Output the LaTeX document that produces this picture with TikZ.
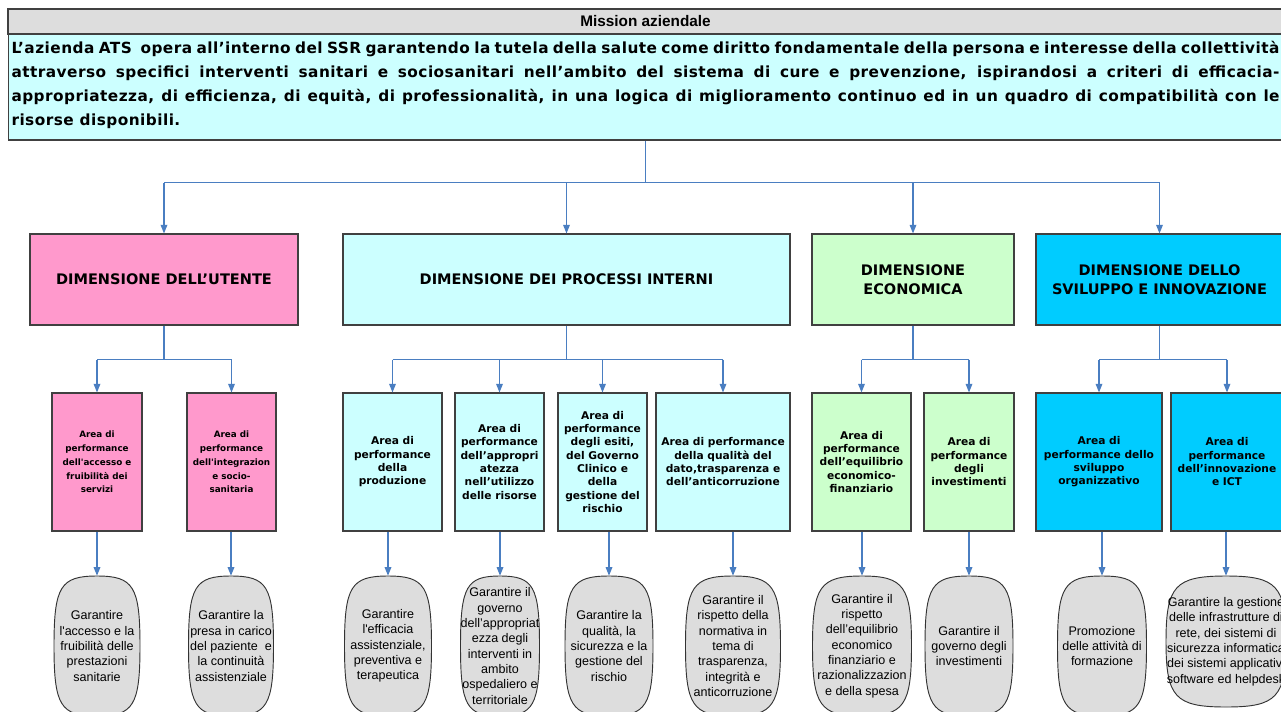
\documentclass[tikz,border=0pt]{standalone}
\usepackage{fontspec}
\setmainfont{Liberation Sans}
\newfontfamily\verdana{DejaVu Sans}
\newfontfamily\verdanawide{DejaVu Sans}[LetterSpace=3]
\usetikzlibrary{arrows.meta,backgrounds}
\definecolor{missiongray}{RGB}{221,221,221}
\definecolor{missioncyan}{RGB}{204,255,255}
\definecolor{utentepink}{RGB}{255,153,204}
\definecolor{econgreen}{RGB}{204,255,204}
\definecolor{svilblue}{RGB}{0,204,255}
\definecolor{goalgray}{RGB}{221,221,221}
\definecolor{boxline}{RGB}{64,64,64}
\definecolor{linkblue}{RGB}{74,126,193}
\begin{document}
\begin{tikzpicture}[x=0.75pt,y=0.75pt]
	\tikzstyle{every node}+=[inner sep=0pt]
	\tikzstyle{dimbox}=[draw=boxline,line width=0.8pt,minimum height=68.25pt,align=center,font=\verdana\bfseries\fontsize{10.9}{14.25}\selectfont]
	\tikzstyle{areabox}=[draw=boxline,line width=0.8pt,minimum height=103.5pt,align=center,font=\verdana\bfseries\fontsize{8}{10}\selectfont]
	\tikzstyle{goal}=[minimum height=105pt,align=center,font=\fontsize{9.4}{11.5}\selectfont]
	\tikzstyle{barrel}=[draw=black!80,line width=0.7pt,fill=goalgray]
	\tikzstyle{link}=[draw=linkblue,line width=0.9pt]
	\tikzstyle{arr}=[link,-{Triangle[width=5pt,length=6.5pt]}]
	\useasboundingbox (0,0) rectangle (1281,-711);
	\clip (0,0) rectangle (1281,-711);
	\node[draw=boxline,line width=0.8pt,fill=missiongray,minimum width=956.25pt,minimum height=18.75pt,font=\bfseries\fontsize{11.5}{13}\selectfont] (title) at (645.5,-21.5) {Mission aziendale};
	\node[draw=boxline,line width=0.8pt,fill=missioncyan,text width=951pt,inner xsep=2.6pt,minimum height=79.5pt,align=justify,font=\verdanawide\bfseries\fontsize{11.5}{18}\selectfont] (mission) at (645.5,-87) {\hyphenpenalty=10000 L’azienda ATS\ \ opera all’interno del SSR garantendo la tutela della salute come diritto fondamentale della persona e interesse della collettività\linebreak attraverso specifici interventi sanitari e sociosanitari nell’ambito del sistema di cure e prevenzione, ispirandosi a criteri di efficacia-\linebreak appropriatezza, di efficienza, di equità, di professionalità, in una logica di miglioramento continuo ed in un quadro di compatibilità con le\linebreak risorse disponibili.\vspace{3pt}};
	\node[dimbox,fill=utentepink,minimum width=201pt] (du) at (164,-279.5) {DIMENSIONE DELL’UTENTE};
	\node[dimbox,fill=missioncyan,minimum width=335.25pt] (dp) at (566.5,-279.5) {DIMENSIONE DEI PROCESSI INTERNI};
	\node[dimbox,fill=econgreen,minimum width=151.5pt] (de) at (913,-279.5) {DIMENSIONE\\ECONOMICA};
	\node[dimbox,fill=svilblue,minimum width=185.25pt] (ds) at (1159.5,-279.5) {DIMENSIONE DELLO\\SVILUPPO E INNOVAZIONE};
	\node[areabox,fill=utentepink,minimum width=67.5pt,font=\verdana\bfseries\fontsize{6.6}{10.3}\selectfont] (u1) at (97,-462) {Area di\\performance\\dell\textquotesingle{}accesso e\\fruibilità dei\\servizi};
	\node[areabox,fill=utentepink,minimum width=66.75pt,font=\verdana\bfseries\fontsize{6.6}{10.3}\selectfont] (u2) at (231.5,-462) {Area di\\performance\\dell\textquotesingle{}integrazion\\e socio-\\sanitaria};
	\node[areabox,fill=missioncyan,minimum width=74.25pt] (p1) at (392.5,-462) {Area di\\performance\\della\\produzione};
	\node[areabox,fill=missioncyan,minimum width=66.75pt] (p2) at (499.5,-462) {Area di\\performance\\dell’appropri\\atezza\\nell’utilizzo\\delle risorse};
	\node[areabox,fill=missioncyan,minimum width=66.75pt] (p3) at (602.5,-462) {Area di\\performance\\degli esiti,\\del Governo\\Clinico e\\della\\gestione del\\rischio};
	\node[areabox,fill=missioncyan,minimum width=100.5pt] (p4) at (723,-462) {Area di performance\\della qualità del\\dato,trasparenza e\\dell’anticorruzione};
	\node[areabox,fill=econgreen,minimum width=74.25pt] (e1) at (861.5,-462) {Area di\\performance\\dell’equilibrio\\economico-\\finanziario};
	\node[areabox,fill=econgreen,minimum width=67.5pt] (e2) at (969,-462) {Area di\\performance\\degli\\investimenti};
	\node[areabox,fill=svilblue,minimum width=94.5pt] (s1) at (1099,-462) {Area di\\performance dello\\sviluppo\\organizzativo};
	\node[areabox,fill=svilblue,minimum width=84pt] (s2) at (1227,-462) {Area di\\performance\\dell’innovazione\\e ICT};
	\node[goal] (g1) at (97,-646) {Garantire\\l\textquotesingle{}accesso e la\\fruibilità delle\\prestazioni\\sanitarie};
	\node[goal] (g2) at (231,-646) {Garantire la\\presa in carico\\del paziente\ \ e\\la continuità\\assistenziale};
	\node[goal] (g3) at (388,-646) {Garantire\\l\textquotesingle{}efficacia\\assistenziale,\\preventiva e\\terapeutica};
	\node[goal] (g4) at (500,-646) {Garantire il\\governo\\dell’appropriat\\ezza degli\\interventi in\\ambito\\ospedaliero e\\territoriale};
	\node[goal] (g5) at (609,-646) {Garantire la\\qualità, la\\sicurezza e la\\gestione del\\rischio};
	\node[goal] (g6) at (733,-646) {Garantire il\\rispetto della\\normativa in\\tema di\\trasparenza,\\integrità e\\anticorruzione};
	\node[goal] (g7) at (862,-646) {Garantire il\\rispetto\\dell’equilibrio\\economico\\finanziario e\\razionalizzazion\\e della spesa};
	\node[goal] (g8) at (969,-646) {Garantire il\\governo degli\\investimenti};
	\node[goal] (g9) at (1102,-646) {Promozione\\delle attività di\\formazione};
	\node[goal,minimum height=98.25pt] (g10) at (1226,-641.5) {Garantire la gestione\\delle infrastrutture di\\rete, dei sistemi di\\sicurezza informatica\\dei sistemi applicativi\\software ed helpdesk};
	\begin{scope}[on background layer]
		\foreach \i/\w/\h in {1/43/70,2/42.5/70,3/43.5/70,4/39.5/70,5/44/70,6/47.5/70,7/49.5/70,8/44/70,9/44.5/70,10/60/65.5}
			\draw[barrel,shift={(g\i.center)}] (0,\h) .. controls (0.85*\w,\h) and (\w,0.85*\h) .. (\w,0) .. controls (\w,-0.85*\h) and (0.85*\w,-\h) .. (0,-\h) .. controls (-0.85*\w,-\h) and (-\w,-0.85*\h) .. (-\w,0) .. controls (-\w,0.85*\h) and (-0.85*\w,\h) .. (0,\h) -- cycle;
	\end{scope}
	\path (mission.south) ++(0,-42) coordinate (jm);
	\draw[link] (mission.south) -- (jm);
	\draw[link] (du.north |- jm) -- (ds.north |- jm);
	\foreach \d in {du,dp,de,ds}
		\draw[arr] (\d.north |- jm) -- (\d.north);
	\path (du.south) ++(0,-34) coordinate (ju);
	\path (dp.south) ++(0,-34) coordinate (jp);
	\path (de.south) ++(0,-34) coordinate (je);
	\path (ds.south) ++(0,-34) coordinate (js);
	\draw[link] (du.south) -- (ju);
	\draw[link] (dp.south) -- (jp);
	\draw[link] (de.south) -- (je);
	\draw[link] (ds.south) -- (js);
	\draw[link] (u1.north |- ju) -- (u2.north |- ju);
	\draw[link] (p1.north |- jp) -- (p4.north |- jp);
	\draw[link] (e1.north |- je) -- (e2.north |- je);
	\draw[link] (s1.north |- js) -- (s2.north |- js);
	\foreach \a/\j in {u1/ju,u2/ju,p1/jp,p2/jp,p3/jp,p4/jp,e1/je,e2/je,s1/js,s2/js}
		\draw[arr] (\a.north |- \j) -- (\a.north);
	\foreach \a/\g in {u1/g1,u2/g2,p1/g3,p2/g4,p3/g5,p4/g6,e1/g7,e2/g8,s1/g9,s2/g10}
		\draw[arr] (\g.north |- \a.south) -- (\g.north);
\end{tikzpicture}
\end{document}
